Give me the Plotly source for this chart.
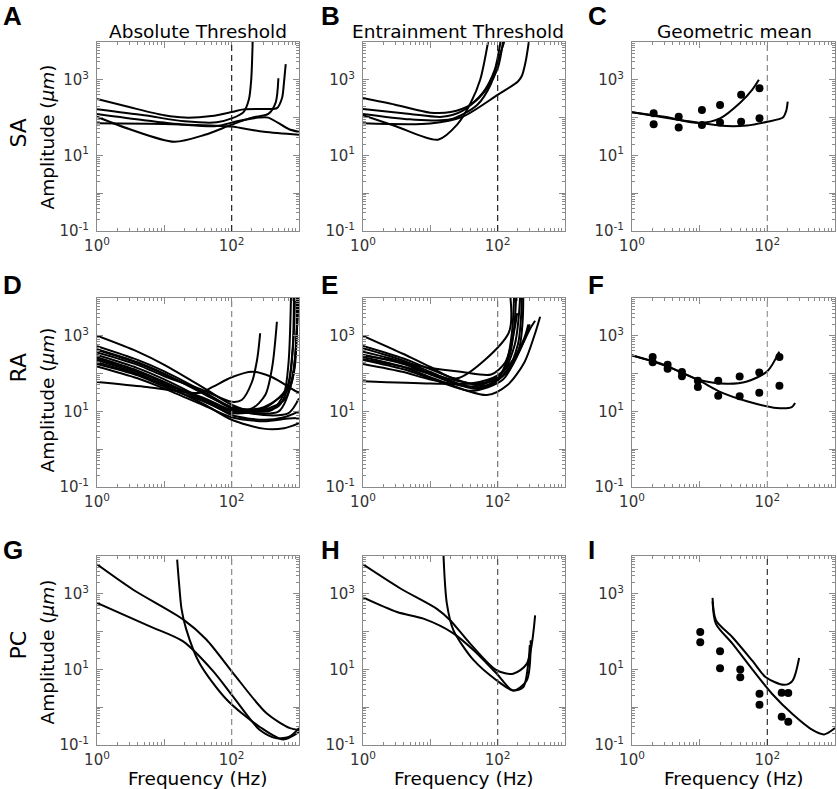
import plotly.graph_objects as go

W, H = 837, 789

# ---------------- data (frequency Hz, amplitude um) ----------------
SA_ABS = [
    [[1, 310], [3, 190], [10, 115], [20, 100], [50, 110], [100, 140], [150, 165], [300, 170], [470, 178], [560, 330], [600, 900], [635, 2600]],
    [[1, 166], [5, 115], [20, 80], [60, 75], [100, 95], [150, 140], [180, 300], [195, 1000], [205, 10000]],
    [[1, 124], [5, 85], [20, 65], [60, 60], [120, 80], [250, 100], [350, 100], [700, 50], [1000, 42]],
    [[1, 105], [3, 50], [14, 23], [40, 35], [100, 65], [200, 100], [350, 125], [450, 250], [494, 1100]],
    [[1, 71], [10, 68], [50, 62], [100, 58], [300, 42], [1000, 35]],
]
SA_ENT = [
    [[1, 330], [3, 220], [10, 135], [20, 140], [40, 220], [70, 600], [100, 2000], [120, 10000]],
    [[1, 170], [5, 125], [15, 105], [30, 150], [60, 450], [90, 1800], [110, 10000]],
    [[1, 125], [5, 90], [20, 90], [50, 220], [80, 800], [100, 3000], [125, 10000]],
    [[1, 71], [10, 70], [30, 105], [100, 400], [200, 900], [230, 1300], [260, 3000], [290, 10000]],
    [[1, 115], [3, 60], [13, 26], [25, 65], [40, 250], [55, 1000], [72, 10000]],
]
SA_MEAN_FREQ = [2.09, 4.9, 10.8, 20, 41, 76.6]
SA_MEAN_ENT = [130, 106, 160, 217, 400, 600]
SA_MEAN_ABS = [67, 55, 64, 74, 78, 96]
SA_FIT = [
    [[1, 139], [3, 105], [10, 72], [20, 95], [40, 250], [60, 550], [75, 1000]],
    [[1, 139], [3, 100], [10, 72], [25, 60], [50, 62], [100, 78], [170, 100], [190, 150], [200, 265]],
]

RA_ABS = [
    [[1, 1000], [4, 380], [10, 170], [40, 40], [100, 15], [200, 10], [400, 11], [600, 30], [700, 200], [760, 10000]],
    [[1, 530], [4, 230], [10, 115], [40, 32], [100, 13], [250, 10], [500, 14], [700, 50], [820, 600], [870, 10000]],
    [[1, 445], [4, 200], [10, 100], [40, 28], [100, 13], [200, 12], [315, 27], [400, 150], [470, 2350]],
    [[1, 360], [4, 170], [10, 85], [40, 35], [100, 18], [141, 20], [200, 60], [240, 250], [265, 1170]],
    [[1, 310], [4, 140], [10, 70], [40, 20], [100, 8], [300, 6], [600, 7], [1000, 10]],
    [[1, 270], [4, 120], [10, 60], [40, 18], [100, 9], [300, 11], [600, 20], [850, 120], [930, 10000]],
    [[1, 230], [4, 100], [10, 50], [40, 15], [100, 6], [295, 3.5], [600, 3.6], [1000, 4.9]],
    [[1, 180], [4, 90], [10, 45], [40, 18], [100, 10], [300, 12], [650, 40], [800, 400], [840, 10000]],
    [[1, 155], [4, 75], [10, 40], [40, 14], [100, 7], [300, 5.5], [700, 6.5], [1000, 6.7]],
    [[1, 60], [5, 45], [15, 35], [34, 31], [53, 45], [100, 80], [200, 112], [400, 80], [930, 33], [1000, 32]],
    [[1, 420], [4, 190], [10, 95], [40, 30], [100, 12], [300, 8], [700, 9], [1000, 22]],
    [[1, 200], [4, 95], [10, 52], [40, 22], [100, 11], [300, 13], [700, 40], [880, 300], [960, 10000]],
    [[1, 250], [4, 110], [10, 58], [40, 20], [100, 10], [200, 9], [500, 10], [800, 70], [900, 600], [990, 10000]],
]
RA_ENT = [
    [[1, 1000], [4, 330], [10, 150], [25, 75], [145, 1170], [155, 10000]],
    [[1, 540], [4, 250], [10, 130], [40, 55], [100, 75], [140, 250], [165, 1500], [175, 10000]],
    [[1, 470], [4, 220], [10, 110], [40, 45], [100, 80], [150, 300], [175, 1500], [188, 10000]],
    [[1, 380], [4, 200], [10, 100], [40, 45], [120, 110], [180, 600], [205, 3000], [215, 10000]],
    [[1, 316], [4, 180], [10, 95], [50, 40], [130, 100], [200, 600], [222, 3000], [228, 10000]],
    [[1, 270], [4, 150], [10, 80], [69, 27], [140, 50], [250, 200], [350, 1000], [427, 3200]],
    [[1, 230], [4, 130], [10, 75], [40, 35], [120, 70], [210, 500], [235, 2500], [240, 10000]],
    [[1, 180], [4, 110], [10, 70], [60, 45], [150, 130], [250, 800], [300, 2000]],
    [[1, 63], [10, 55], [40, 55], [100, 90], [200, 350], [300, 1500], [360, 2500]],
    [[1, 300], [4, 200], [10, 140], [30, 110], [80, 95], [130, 200], [170, 1000], [195, 4000]],
    [[1, 240], [4, 150], [10, 100], [30, 60], [80, 50], [150, 150], [250, 900], [285, 2000]],
]
RA_MEAN_FREQ = [2.02, 3.36, 5.47, 9.4, 18.8, 39, 76, 151]
RA_MEAN_ENT = [275, 172, 110, 65, 65, 84, 107, 275]
RA_MEAN_ABS = [200, 135, 85, 44, 26, 25, 31, 48]
RA_FIT = [
    [[1, 300], [3, 170], [9.4, 70], [25, 54], [50, 62], [100, 115], [150, 380]],
    [[1, 305], [3, 165], [9.4, 68], [20, 33], [50, 18.6], [137, 12.3], [230, 13], [257, 16.7]],
]

PC_ABS = [
    [[1, 6000], [3.4, 1300], [19, 210], [42, 62], [105, 8], [330, 0.69], [735, 0.28], [1000, 0.25]],
    [[1, 575], [6.1, 138], [19, 55], [53, 9], [105, 1.9], [262, 0.25], [465, 0.15], [730, 0.17], [1000, 0.28]],
    [[15.5, 8000], [16.5, 2000], [18, 400], [21, 120], [33, 15], [84, 1.6], [262, 0.3], [580, 0.14], [1000, 0.22]],
]
PC_ENT = [
    [[1, 6000], [3.6, 1380], [12.5, 400], [19.7, 200], [39, 48], [97, 9.4], [170, 7.7], [270, 14], [360, 270]],
    [[1, 800], [3.2, 330], [7.9, 220], [22, 90], [44, 32], [97, 7.7], [170, 2.76], [270, 5.1], [310, 59]],
    [[15.7, 10000], [17.6, 550], [22, 110], [44, 17.5], [97, 5.1], [170, 2.76], [240, 3.4], [290, 20], [300, 44]],
]
PC_MEAN_FREQ = [10.2, 20, 39.8, 76.6, 163, 204]
PC_MEAN_ENT = [97, 30, 9.9, 2.27, 2.4, 2.37]
PC_MEAN_ABS = [52, 10.7, 6.2, 1.16, 0.56, 0.41]
PC_FIT = [
    [[15.5, 780], [17.4, 200], [30.5, 71], [60, 17], [95, 6.2], [177, 3.9], [235, 5], [295, 20]],
    [[15.5, 630], [17.4, 160], [30.5, 48], [60, 10], [119, 2.2], [235, 0.66], [464, 0.25], [690, 0.19], [1000, 0.28]],
]

X_TICKS = [1, 10, 100, 1000]
X_TICKTEXT = ["10<sup>0</sup>", "", "10<sup>2</sup>", ""]
Y_TICKS = [0.1, 1, 10, 100, 1000, 10000]
Y_TICKTEXT = ["10<sup>-1</sup>", "", "10<sup>1</sup>", "", "10<sup>3</sup>", ""]
COL_TITLES = ["Absolute Threshold", "Entrainment Threshold", "Geometric mean"]
ROW_LABELS = ["SA", "RA", "PC"]
PANEL_LETTERS = ["A", "B", "C", "D", "E", "F", "G", "H", "I"]

# ---------------- layout geometry (pixels) ----------------
COL_X = [(97, 299), (363, 565), (632, 835)]
ROW_Y = [(42, 231), (298, 487), (556, 745)]
DASH_COLORS = ["#222", "#222", "#888", "#888", "#777", "#999", "#888", "#555", "#333"]

panels = [
    (SA_ABS, None), (SA_ENT, None), (SA_FIT, (SA_MEAN_FREQ, SA_MEAN_ENT, SA_MEAN_ABS)),
    (RA_ABS, None), (RA_ENT, None), (RA_FIT, (RA_MEAN_FREQ, RA_MEAN_ENT, RA_MEAN_ABS)),
    (PC_ABS, None), (PC_ENT, None), (PC_FIT, (PC_MEAN_FREQ, PC_MEAN_ENT, PC_MEAN_ABS)),
]

minor_x = [m * 10 ** d for d in range(0, 3) for m in range(2, 10)]
minor_y = [m * 10 ** d for d in range(-1, 4) for m in range(2, 10)]

fig = go.Figure()
layout = dict(
    width=W, height=H, margin=dict(l=0, r=0, t=0, b=0, pad=0, autoexpand=False),
    paper_bgcolor="white", plot_bgcolor="white", showlegend=False,
    font=dict(family="DejaVu Sans", color="#333"),
)
shapes = []
annotations = []

FRAME = "#8a8a8a"
for i, (curves, dots) in enumerate(panels):
    r, c = divmod(i, 3)
    n = i + 1
    xs = "" if n == 1 else str(n)
    x0, x1 = COL_X[c]
    y0, y1 = ROW_Y[r]
    layout["xaxis" + xs] = dict(
        domain=[x0 / W, x1 / W], anchor="y" + xs, type="log", range=[0, 3],
        tickmode="array", tickvals=X_TICKS, ticktext=X_TICKTEXT,
        ticks="inside", ticklen=6, tickwidth=1, tickcolor=FRAME,
        showline=True, linecolor=FRAME, linewidth=1, mirror="allticks",
        showgrid=False, zeroline=False, automargin=False, ticklabelstandoff=1,
        tickfont=dict(family="DejaVu Sans", size=15, color="#333"),
        minor=dict(tickmode="array", tickvals=minor_x, ticks="inside", ticklen=3, tickcolor=FRAME, showgrid=False),
    )
    layout["yaxis" + xs] = dict(
        domain=[1 - y1 / H, 1 - y0 / H], anchor="x" + xs, type="log", range=[-1, 4],
        tickmode="array", tickvals=Y_TICKS, ticktext=Y_TICKTEXT,
        ticks="inside", ticklen=6, tickwidth=1, tickcolor=FRAME,
        showline=True, linecolor=FRAME, linewidth=1, mirror="allticks",
        showgrid=False, zeroline=False, automargin=False, ticklabelstandoff=4,
        tickfont=dict(family="DejaVu Sans", size=15, color="#333"),
        minor=dict(tickmode="array", tickvals=minor_y, ticks="inside", ticklen=3, tickcolor=FRAME, showgrid=False),
    )
    for cv in curves:
        fig.add_trace(go.Scatter(
            x=[p[0] for p in cv], y=[p[1] for p in cv], mode="lines",
            line=dict(color="black", width=2, shape="spline", smoothing=0.8),
            xaxis="x" + xs, yaxis="y" + xs, hoverinfo="skip",
        ))
    if dots is not None:
        f, e, a = dots
        fig.add_trace(go.Scatter(x=f + f, y=e + a, mode="markers",
                                 marker=dict(color="black", size=8),
                                 xaxis="x" + xs, yaxis="y" + xs, hoverinfo="skip"))
    shapes.append(dict(type="line", xref="x" + xs, yref="y" + xs + " domain",
                       x0=100, x1=100, y0=0, y1=1,
                       line=dict(color=DASH_COLORS[i], width=1.2, dash="6px,4px")))

# panel letters
LETTER_X = [1, 319, 586]
LETTER_Y = [16, 285, 550]
for i, L in enumerate(PANEL_LETTERS):
    r, c = divmod(i, 3)
    annotations.append(dict(text="<b>%s</b>" % L, xref="paper", yref="paper",
                            x=LETTER_X[c] / W, y=1 - LETTER_Y[r] / H, xanchor="left", yanchor="middle",
                            showarrow=False, font=dict(family="Liberation Sans", size=26, color="black")))

# column titles
TITLE_X = [198, 458, 734]
for c, t in enumerate(COL_TITLES):
    annotations.append(dict(text=t, xref="paper", yref="paper", x=TITLE_X[c] / W, y=1 - 31 / H,
                            xanchor="center", yanchor="middle", showarrow=False,
                            font=dict(family="DejaVu Sans", size=18.5, color="black")))

# row labels & y titles
ROWLAB_Y = [133, 368, 645]
AMP_Y = [137, 400, 652]
for r, t in enumerate(ROW_LABELS):
    annotations.append(dict(text=t, xref="paper", yref="paper", x=17.5 / W, y=1 - ROWLAB_Y[r] / H,
                            xanchor="center", yanchor="middle", textangle=-90, showarrow=False,
                            font=dict(family="DejaVu Sans", size=22, color="black")))
    annotations.append(dict(text="Amplitude (<i>μm</i>)", xref="paper", yref="paper", x=46.5 / W,
                            y=1 - AMP_Y[r] / H, xanchor="center", yanchor="middle", textangle=-90,
                            showarrow=False, font=dict(family="DejaVu Sans", size=18.5, color="black")))

# x titles (bottom row)
for c in range(3):
    x0, x1 = COL_X[c]
    annotations.append(dict(text="Frequency (Hz)", xref="paper", yref="paper", x=(x0 + x1) / 2 / W,
                            y=1 - 778.5 / H, xanchor="center", yanchor="middle", showarrow=False,
                            font=dict(family="DejaVu Sans", size=18.5, color="black")))

layout["shapes"] = shapes
layout["annotations"] = annotations
fig.update_layout(**layout)
fig.write_html("out.html", config={"displayModeBar": False},
               post_script="document.body.style.margin='0';document.body.style.overflow='hidden';")
